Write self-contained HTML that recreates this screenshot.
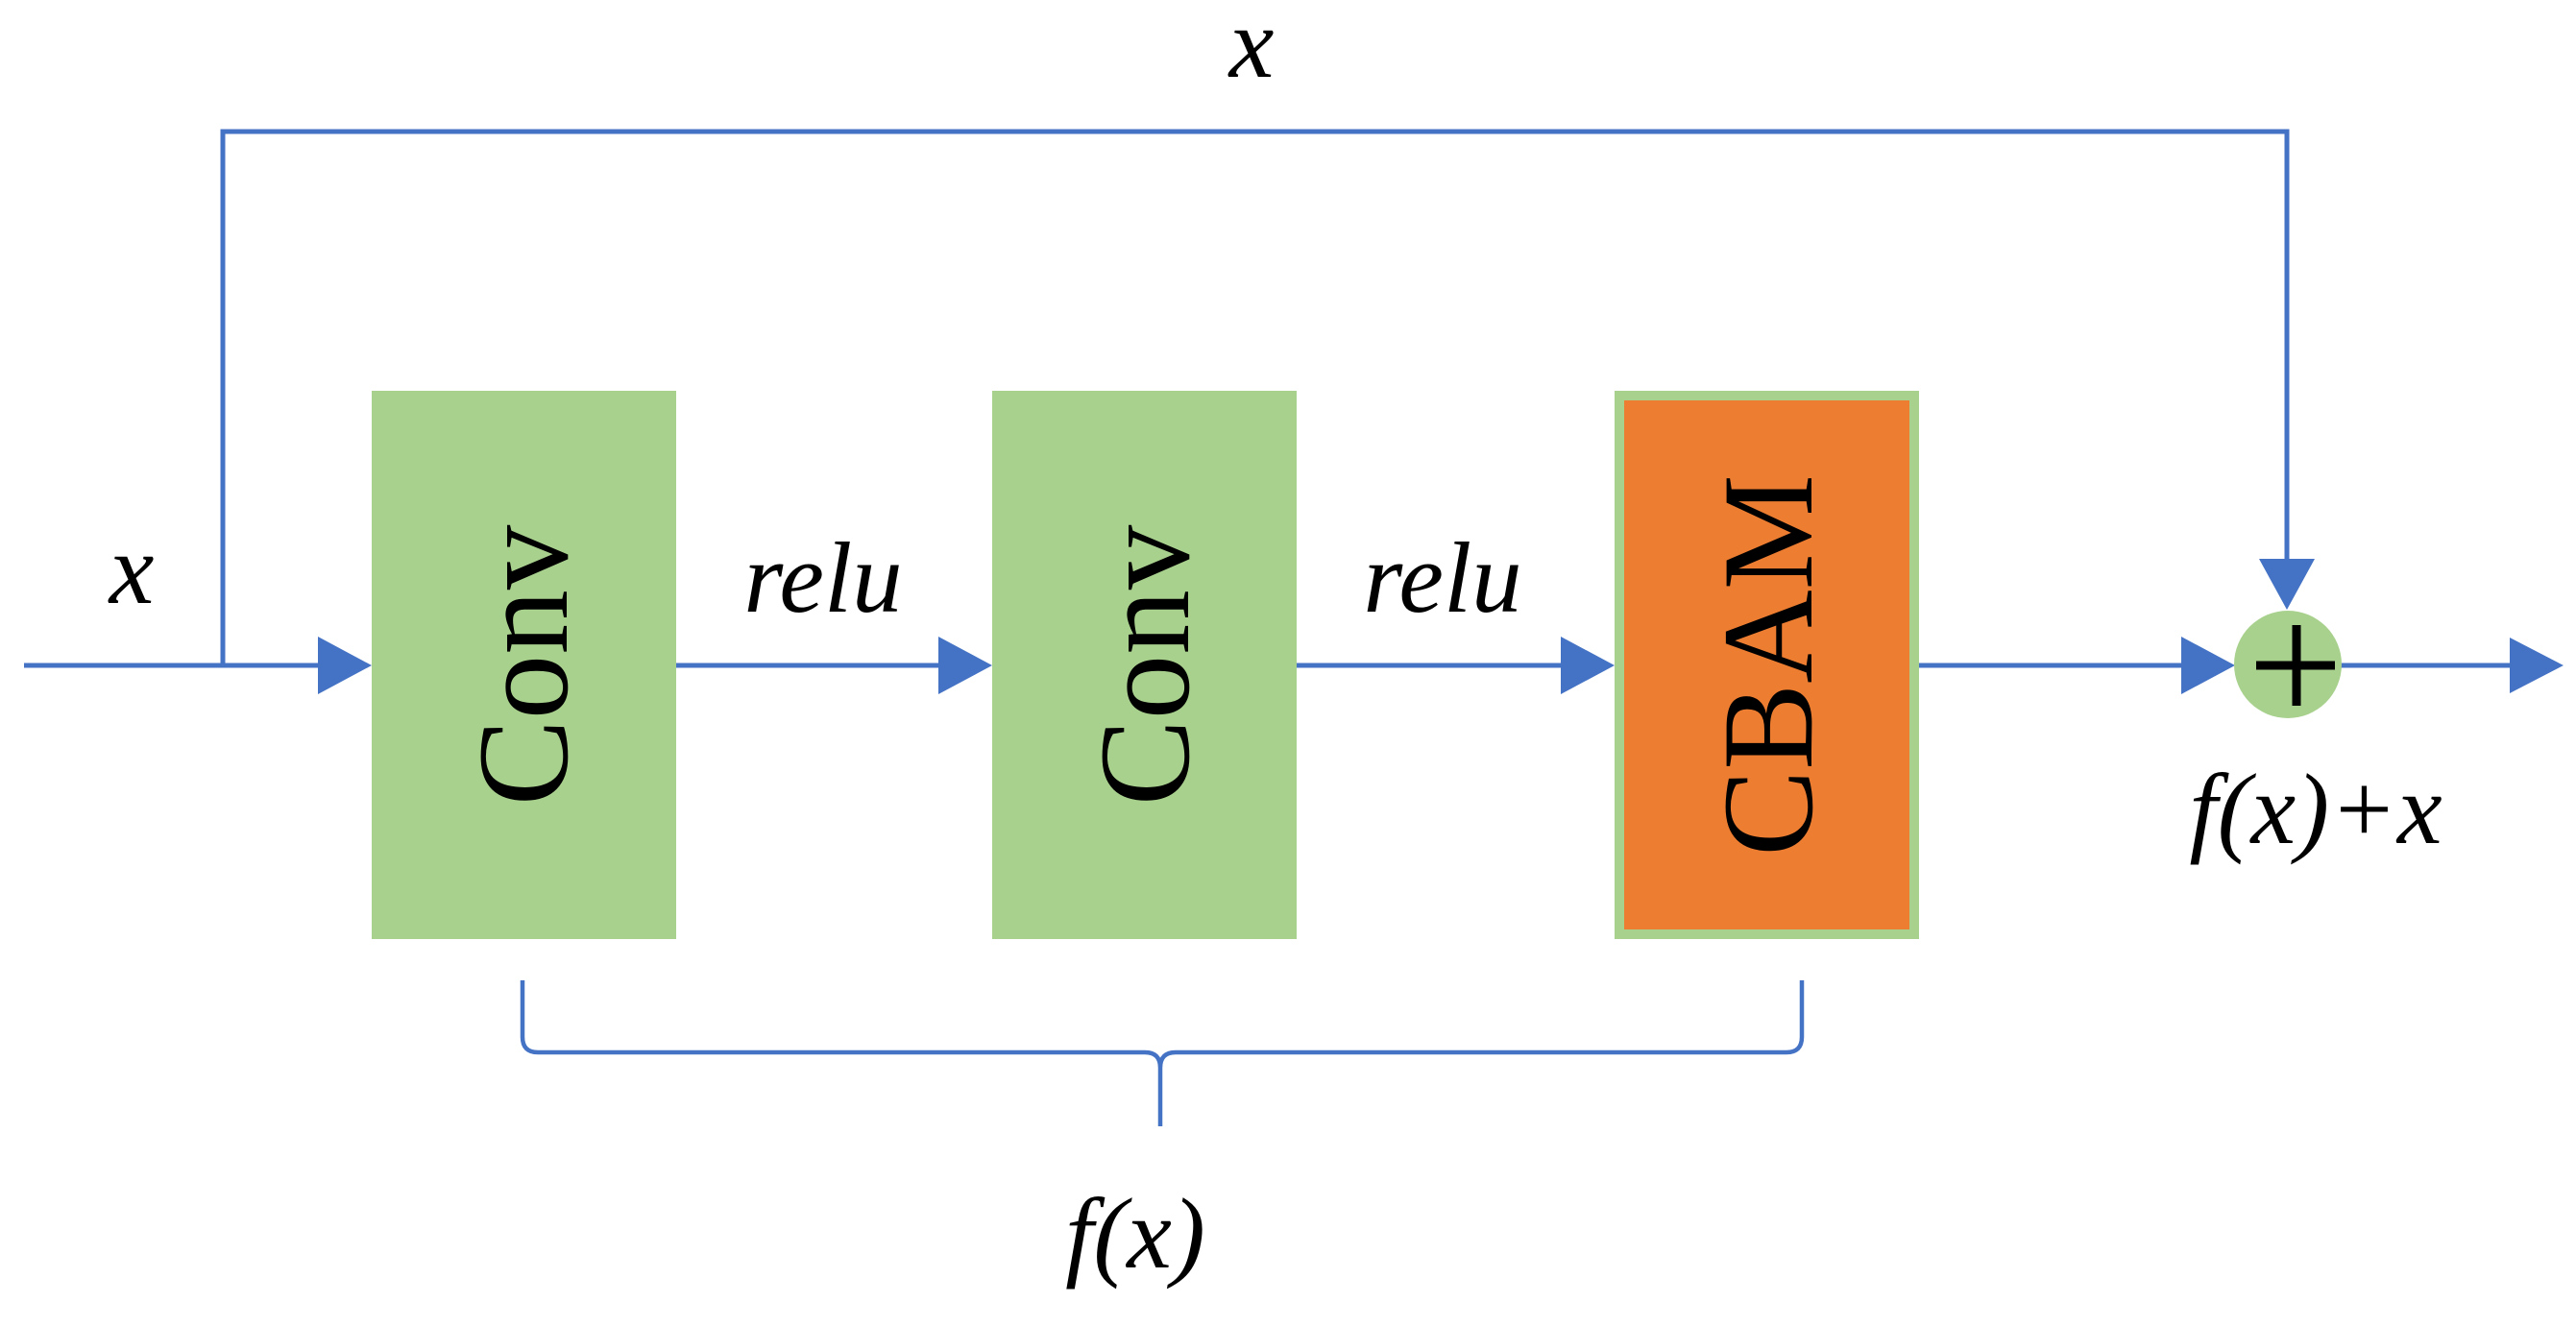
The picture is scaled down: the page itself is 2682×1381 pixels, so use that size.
<!DOCTYPE html>
<html><head><meta charset="utf-8"><style>
html,body{margin:0;padding:0;background:#fff;}
svg{display:block;}
text{font-family:"Liberation Serif",serif;fill:#000;}
.it{font-style:italic;font-size:105px;}
.box{font-size:135px;}
</style></head><body>
<svg width="2682" height="1381" viewBox="0 0 2682 1381" xmlns="http://www.w3.org/2000/svg">
<g stroke="#4472c4" stroke-width="5" fill="none">
<line x1="25" y1="693" x2="335" y2="693"/>
<polyline points="232,693 232,137 2381,137 2381,590"/>
<line x1="704" y1="693" x2="980" y2="693"/>
<line x1="1350" y1="693" x2="1630" y2="693"/>
<line x1="1998" y1="693" x2="2285" y2="693"/>
<line x1="2430" y1="693" x2="2615" y2="693"/>
<path d="M544,1021 L544,1080 Q544,1096 560,1096 L1192,1096 Q1208,1096 1208,1112 L1208,1173 M1208,1112 Q1208,1096 1224,1096 L1860,1096 Q1876,1096 1876,1080 L1876,1021" stroke-width="4.5"/>
</g>
<g fill="#4472c4">
<polygon points="331,663 387,693 331,723"/>
<polygon points="977,663 1033,693 977,723"/>
<polygon points="1625,663 1681,693 1625,723"/>
<polygon points="2271,663 2327,693 2271,723"/>
<polygon points="2613,664 2669,693 2613,722"/>
<polygon points="2352,582 2410,582 2381,635"/>
</g>
<rect x="387" y="407" width="317" height="571" fill="#a9d18e"/>
<rect x="1033" y="407" width="317" height="571" fill="#a9d18e"/>
<rect x="1681" y="407" width="317" height="571" fill="#a9d18e"/>
<rect x="1691" y="417" width="297" height="551" fill="#ed7d31"/>
<circle cx="2382" cy="692" r="56" fill="#a9d18e"/>
<g stroke="#000" stroke-width="9"><line x1="2349" y1="693" x2="2431" y2="693"/><line x1="2391" y1="651" x2="2391" y2="735"/></g>
<text class="box" text-anchor="middle" transform="translate(590,693) rotate(-90)">Conv</text>
<text class="box" text-anchor="middle" transform="translate(1237,693) rotate(-90)">Conv</text>
<text class="box" text-anchor="middle" transform="translate(1886,693) rotate(-90)">CBAM</text>
<text class="it" x="1303" y="80" text-anchor="middle">x</text>
<text class="it" x="137" y="628" text-anchor="middle">x</text>
<text class="it" x="857" y="637" text-anchor="middle">relu</text>
<text class="it" x="1502" y="637" text-anchor="middle">relu</text>
<text class="it" x="2411" y="878" text-anchor="middle">f(x)+x</text>
<text class="it" x="1182" y="1320" text-anchor="middle">f(x)</text>
</svg>
</body></html>
